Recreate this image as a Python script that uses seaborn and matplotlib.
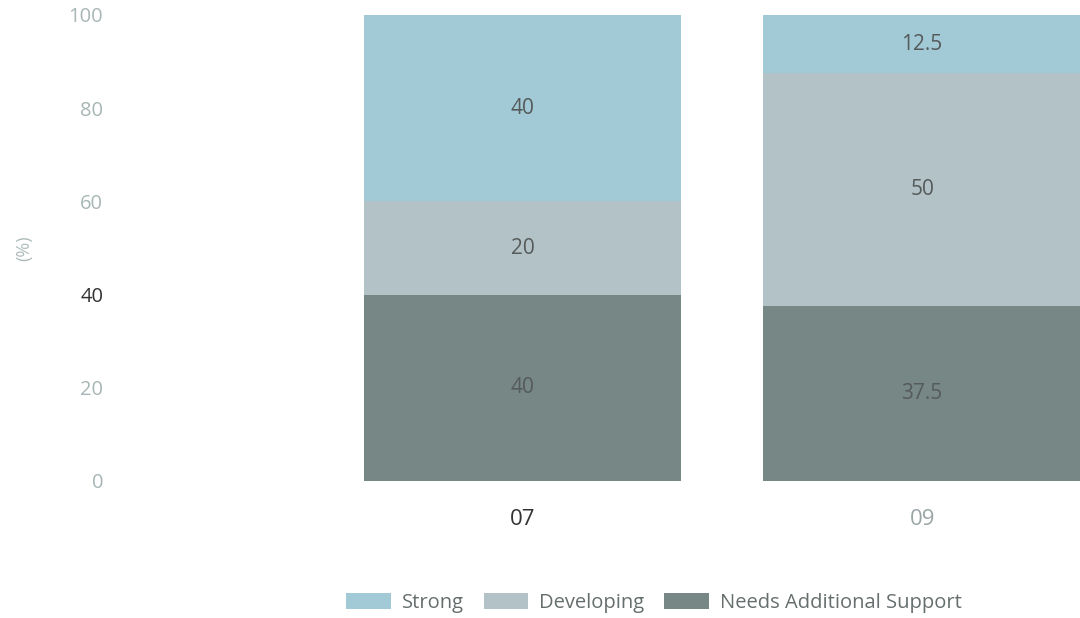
import numpy as np
import pandas as pd
import seaborn as sns
import matplotlib
matplotlib.use('Agg')
import matplotlib.pyplot as plt
from matplotlib.patches import Patch

categories = ['07', '09']
levels = ['Strong', 'Developing', 'Needs Additional Support']
strong = [40, 12.5]
developing = [20, 50]
needs_support = [40, 37.5]
y_ticks = [0, 20, 40, 60, 80, 100]

colors = {'Strong': '#a2cad6', 'Developing': '#b3c2c7', 'Needs Additional Support': '#778786'}

sns.set_theme(style='white')
plt.rcParams['font.family'] = ['Open Sans', 'DejaVu Sans']

df = pd.DataFrame({'cat': categories, 'Strong': strong, 'Developing': developing,
                   'Needs Additional Support': needs_support})
# stack from the bottom: needs support, developing, strong
stack_order = ['Needs Additional Support', 'Developing', 'Strong']
cum = df[stack_order].cumsum(axis=1)

fig = plt.figure(figsize=(10.8, 6.18), dpi=100)
ax = fig.add_axes([115 / 1080, 1 - 481 / 618, 1 - 115 / 1080, 466 / 618])

# draw tallest first so shorter cumulative bars sit on top
for lvl in reversed(stack_order):
    sns.barplot(x=df['cat'], y=cum[lvl], color=colors[lvl], width=0.795,
                saturation=1, ax=ax, linewidth=0)

for i in range(len(categories)):
    base = 0
    for lvl in stack_order:
        v = df[lvl][i]
        ax.text(i, base + v / 2, f'{v:g}', ha='center', va='center',
                fontsize=15, color='#555a5a')
        base += v

ax.set_xlim(-1.02, 1.395)
ax.set_ylim(0, 100)
ax.set_yticks(y_ticks)
ax.set_xlabel('')
ax.set_ylabel('(%)', color='#b0bcbc', fontsize=13, labelpad=0)
ax.yaxis.set_label_coords(-0.085, 0.5)
ax.tick_params(axis='y', length=0, labelsize=14.5, labelcolor='#a8b6b6', pad=8.5)
ax.tick_params(axis='x', length=0, labelsize=16, labelcolor='#9aa6a6', pad=20)
for t in ax.get_yticklabels():
    if t.get_text() == '40':
        t.set_color('#333333')
ax.get_xticklabels()[0].set_color('#333333')
sns.despine(ax=ax, left=True, bottom=True)

handles = [Patch(facecolor=colors[l], edgecolor='none', label=l) for l in levels]
fig.legend(handles=handles, loc='center', bbox_to_anchor=(654 / 1080, 1 - 603 / 618),
           ncol=3, frameon=False, fontsize=14.5, handlelength=2.2, handleheight=0.8,
           columnspacing=1.0, handletextpad=0.55, labelcolor='#666e6e')

fig.savefig('out.png', dpi=100)
